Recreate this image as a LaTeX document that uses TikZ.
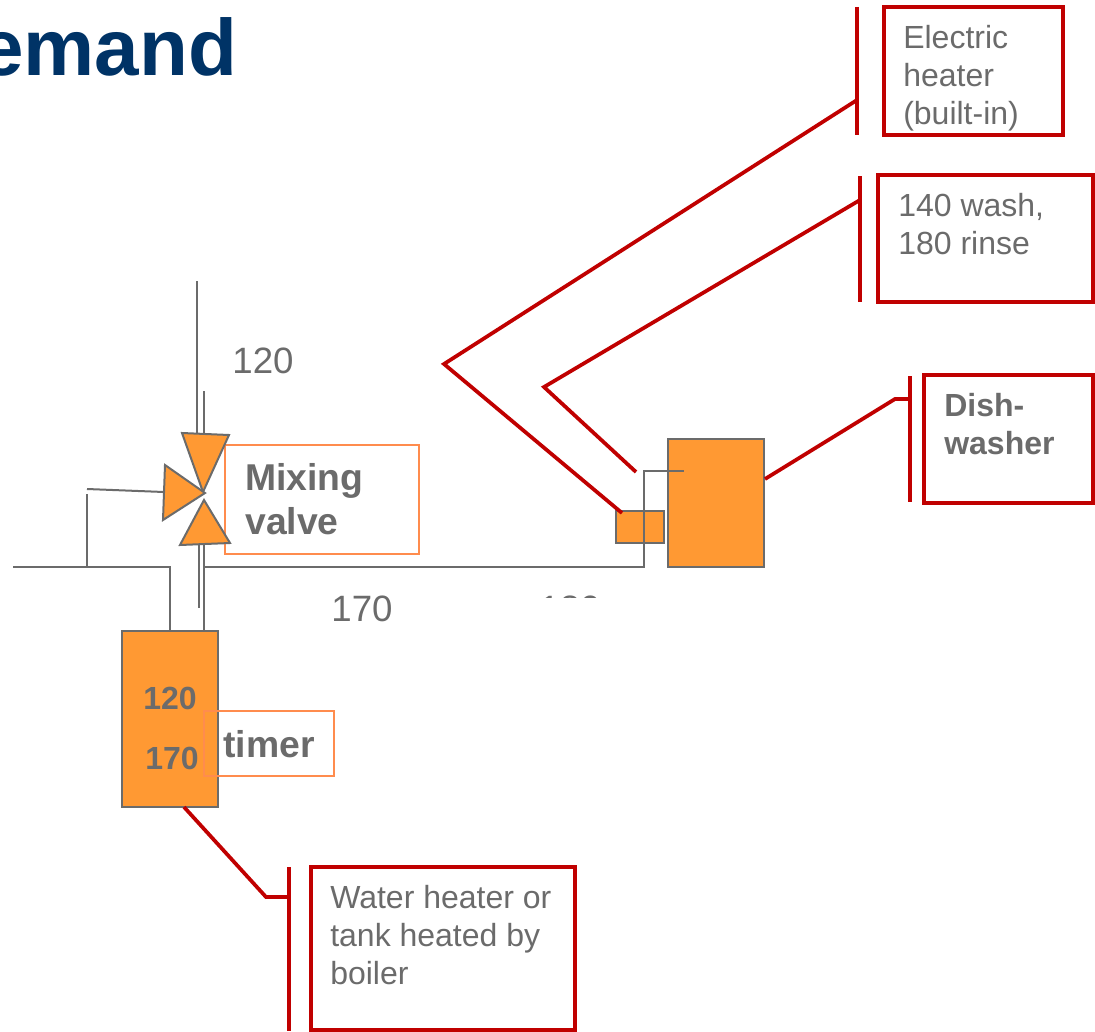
\documentclass[tikz,border=0pt]{standalone}
\usepackage{fontspec}
\setmainfont{Liberation Sans}
\usetikzlibrary{calc, positioning}

\definecolor{titleblue}{HTML}{003366}
\definecolor{pipegray}{HTML}{6B6B6B}
\definecolor{tankorange}{HTML}{FF9933}
\definecolor{tagorange}{HTML}{FF8C4D}
\definecolor{calloutred}{HTML}{C00000}

\tikzset{
    pipe/.style={draw=pipegray, line width=1.5pt},
    tank/.style={draw=pipegray, fill=tankorange, line width=1.5pt, inner sep=0pt, outer sep=0pt},
    tagbox/.style={draw=tagorange, line width=1.1pt, inner sep=0pt, outer sep=0pt},
    calloutbox/.style={draw=calloutred, line width=2.8pt, inner sep=0pt, outer sep=0pt},
    calloutline/.style={draw=calloutred, line width=2.8pt},
    plainlabel/.style={text=pipegray, font=\fontsize{24}{28.6}\selectfont, inner sep=0pt, align=left, anchor=north west},
    boldlabel/.style={text=pipegray, font=\bfseries\fontsize{24}{28.6}\selectfont, inner sep=0pt, align=left, anchor=north west},
    biglabel/.style={text=pipegray, font=\bfseries\fontsize{28}{33}\selectfont, inner sep=0pt, align=left, anchor=north west},
    numlabel/.style={text=pipegray, font=\fontsize{27.5}{30}\selectfont, inner sep=0pt},
    tanklabel/.style={text=pipegray, font=\bfseries\fontsize{24}{28}\selectfont, inner sep=0pt}
}

\begin{document}
\begin{tikzpicture}[x=0.75pt, y=-0.75pt]

    \useasboundingbox (0,0) rectangle (1095,1031);

    % ==========================================
    % TITLE
    % ==========================================
    \node[text=titleblue, font=\bfseries\fontsize{60}{60}\selectfont, inner sep=0pt, anchor=base east] (titletext) at (237.5,75.5) {emand};

    % ==========================================
    % TANKS AND TAG BOXES
    % ==========================================
    \node[tagbox, minimum width=145.5pt, minimum height=81.75pt] (mixingbox) at (322,499.5) {};

    \node[tank, minimum width=72pt, minimum height=132pt] (waterheater) at (170,719) {};
    \node[tank, minimum width=36pt, minimum height=24pt] (boosterheater) at (640,527) {};
    \node[tank, minimum width=72pt, minimum height=96pt] (dishwasher) at (716,503) {};

    \node[tagbox, minimum width=97.5pt, minimum height=48.75pt] (timerbox) at (269,743.5) {};

    % ==========================================
    % PIPES
    % ==========================================
    \coordinate (hotin) at (13,567);
    \coordinate (teeleft) at (87,567);
    \coordinate (hotcorner) at (170,567);
    \coordinate (hotdown) at (170,631);
    \coordinate (loopup) at (87,494);
    \coordinate (loopstart) at (87,489);
    \coordinate (valveleft) at (164,492);
    \coordinate (teeright) at (204,567);
    \coordinate (riser) at (644,567);
    \coordinate (risertop) at (644,471);
    \coordinate (riserend) at (684,471);

    \draw[pipe] (197,281) -- (197,433);
    \draw[pipe] (204,391) -- (204,435);
    \draw[pipe] (199,543) -- (199,608);
    \draw[pipe] (204,543) -- (204,631);
    \draw[pipe] (hotin) -- (hotcorner) -- (hotdown);
    \draw[pipe] (teeleft) -- (loopup);
    \draw[pipe] (loopstart) -- (valveleft);
    \draw[pipe] (teeright) -- (riser) -- (risertop) -- (riserend);

    % Mixing valve (three triangles)
    \draw[tank, line join=miter] (182,433) -- (229,435) -- (203,492) -- cycle;
    \draw[tank, line join=miter] (165,465) -- (205,493) -- (163,520) -- cycle;
    \draw[tank, line join=miter] (204,500) -- (230,543) -- (180,545) -- cycle;

    % ==========================================
    % LABELS ON THE DIAGRAM
    % ==========================================
    \node[numlabel] (hotlabel) at (263,361) {120};
    \node[numlabel] (supplylabel) at (362,609) {170};

    % Cut off by a shape above the drawing
    \begin{scope}
        \clip (520,580) rectangle (620,597);
        \node[numlabel] (cutlabel) at (570,609) {180};
    \end{scope}

    \node[biglabel] (mixinglabel) at (245,463) {Mixing\\valve};
    \node[tanklabel] (tanklabelA) at (170,698) {120};
    \node[tanklabel] (tanklabelB) at (172,758) {170};
    \node[font=\bfseries\fontsize{28}{30}\selectfont, text=pipegray, inner sep=0pt, anchor=west] (timerlabel) at (223,744) {timer};

    % ==========================================
    % CALLOUTS
    % ==========================================
    % Electric heater
    \node[calloutbox, minimum width=134.5pt, minimum height=96pt] (heaterbox) at (973.5,71) {};
    \node[plainlabel] (heaterlabel) at (903,25) {Electric\\heater\\(built-in)};
    \coordinate (heaterbartop) at (857,7);
    \coordinate (heaterbarbot) at (857,135);
    \coordinate (heaterjoin) at (857,100);
    \coordinate (heaterelbow) at (444,364);
    \coordinate (heaterend) at (622,513);
    \draw[calloutline] (heaterbartop) -- (heaterbarbot);
    \draw[calloutline] (heaterjoin) -- (heaterelbow) -- (heaterend);

    % Wash and rinse temperatures
    \node[calloutbox, minimum width=161.25pt, minimum height=95.25pt] (washbox) at (985.5,238.5) {};
    \node[plainlabel] (washlabel) at (898,193) {140 wash,\\180 rinse};
    \coordinate (washbartop) at (860,176);
    \coordinate (washbarbot) at (860,302);
    \coordinate (washjoin) at (860,200);
    \coordinate (washelbow) at (544,387);
    \coordinate (washend) at (636,472);
    \draw[calloutline] (washbartop) -- (washbarbot);
    \draw[calloutline] (washjoin) -- (washelbow) -- (washend);

    % Dishwasher
    \node[calloutbox, minimum width=127pt, minimum height=96pt] (dishbox) at (1008.5,439) {};
    \node[boldlabel] (dishlabel) at (944,393) {Dish-\\washer};
    \coordinate (dishbartop) at (910,376);
    \coordinate (dishbarbot) at (910,502);
    \coordinate (dishjoin) at (910,399);
    \coordinate (dishelbow) at (895,399);
    \coordinate (dishstart) at (765,479);
    \draw[calloutline] (dishbartop) -- (dishbarbot);
    \draw[calloutline] (dishstart) -- (dishelbow) -- (dishjoin);

    % Water heater
    \node[calloutbox, minimum width=198.25pt, minimum height=122.25pt] (tankbox) at (443,948.5) {};
    \node[plainlabel] (tanklabel) at (330,885) {Water heater or\\tank heated by\\boiler};
    \coordinate (tankbartop) at (289,867);
    \coordinate (tankbarbot) at (289,1031);
    \coordinate (tankjoin) at (289,897);
    \coordinate (tankelbow) at (266,897);
    \coordinate (tankstart) at (184,807);
    \draw[calloutline] (tankbartop) -- (tankbarbot);
    \draw[calloutline] (tankstart) -- (tankelbow) -- (tankjoin);

\end{tikzpicture}
\end{document}
